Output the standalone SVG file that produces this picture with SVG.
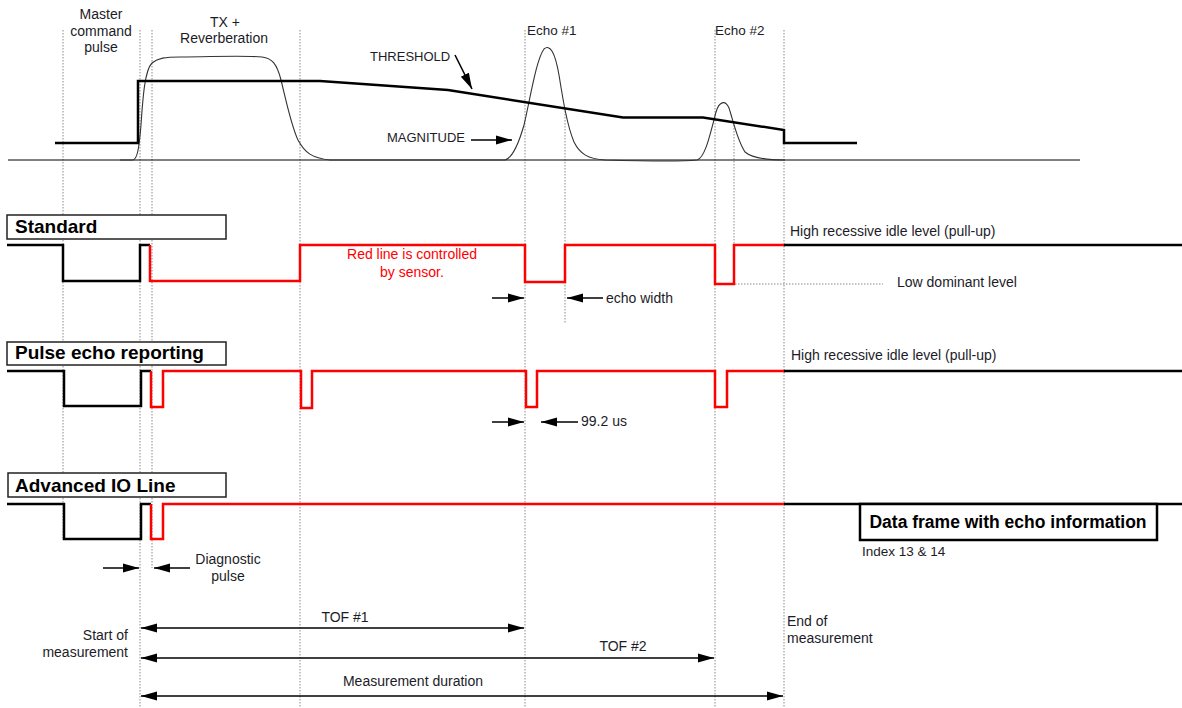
<svg xmlns="http://www.w3.org/2000/svg" width="1182" height="708" viewBox="0 0 1182 708">
<style>
text{font-family:"Liberation Sans",Arial,sans-serif;font-size:14px;fill:#1c1c28}
.b{font-weight:bold;font-size:19px;fill:#000}
.m{text-anchor:middle}
.e{text-anchor:end}
.red{fill:#ff0000}
.dot{stroke:#8a8a8a;stroke-width:1;stroke-dasharray:1.5 1.5;fill:none}
.sigk{stroke:#000;stroke-width:2.5;fill:none;stroke-linejoin:miter}
.sigr{stroke:#ff0000;stroke-width:2.5;fill:none;stroke-linejoin:miter}
.box{fill:#fff;stroke:#222;stroke-width:1.5}
.arr{stroke:#000;stroke-width:1.5;fill:none}
.thin{stroke:#333;stroke-width:1.1;fill:none}
</style>
<defs>
<marker id="ah" markerUnits="userSpaceOnUse" markerWidth="17" markerHeight="11" refX="16" refY="5" orient="auto-start-reverse">
<path d="M0,0.5 L16,5 L0,9.5 z" fill="#000"/>
</marker>
</defs>

<g id="guides">
<line class="dot" x1="63" y1="30" x2="63" y2="540"/>
<line class="dot" x1="140" y1="30" x2="140" y2="708"/>
<line class="dot" x1="152" y1="30" x2="152" y2="568"/>
<line class="dot" x1="300" y1="30" x2="300" y2="708"/>
<line class="dot" x1="525" y1="30" x2="525" y2="708"/>
<line class="dot" x1="565" y1="108" x2="565" y2="323"/>
<line class="dot" x1="715" y1="30" x2="715" y2="708"/>
<line class="dot" x1="734" y1="122" x2="734" y2="284"/>
<line class="dot" x1="784" y1="30" x2="784" y2="708"/>
<line class="dot" x1="735" y1="284" x2="883" y2="284"/>
</g>

<g id="top-plot">
<line x1="8" y1="160" x2="1080" y2="160" stroke="#000" stroke-width="1"/>
<path class="thin" d="M120,160 L133,160 C137,159 139,150 141,125 C143,95 145,70 152,63 C158,58 165,57 180,57 C210,57 240,55 262,57 C272,58 277,64 281,80 C286,100 291,125 298,140 C305,153 312,158 330,160 L505,160 C512,158 518,146 524,125 C530,100 536,60 544,49 C550,44 555,52 559,75 C563,100 567,125 574,142 C580,154 588,159 605,160 C640,161 680,162 697,160 C705,158 710,135 716,112 C719,102 725,99 729,108 C733,120 737,140 745,152 C752,158 765,160 785,160"/>
<path class="sigk" d="M55,143 H138 V81 H320 L448,90 L623,117.5 H703 L784,130 V143 H857"/>
<text x="101" y="19" class="m">Master</text>
<text x="101" y="36" class="m">command</text>
<text x="101" y="52" class="m">pulse</text>
<text x="225" y="27" class="m">TX +</text>
<text x="224" y="43" class="m">Reverberation</text>
<text x="370" y="61" style="font-size:13px">THRESHOLD</text>
<text x="387" y="142" style="font-size:13px">MAGNITUDE</text>
<text x="527" y="35" style="font-size:13.5px">Echo #1</text>
<text x="715" y="35" style="font-size:13.5px">Echo #2</text>
</g>

<g id="standard">
<rect class="box" x="7" y="215" width="219" height="24"/>
<text x="15" y="233" class="b">Standard</text>
<path class="sigk" d="M7,245 H63 V281 H140 V245 H150"/>
<path class="sigr" d="M150,245 V281 H300 V245 H525 V282 H565 V245 H715 V284 H734 V245 H785"/>
<path class="sigk" d="M784,245 H1182"/>
<text x="412" y="259" class="m red">Red line is controlled</text>
<text x="412" y="277" class="m red">by sensor.</text>
<text x="790" y="236">High  recessive idle level (pull-up)</text>
<text x="897" y="287">Low dominant level</text>
<text x="606" y="303">echo width</text>
</g>

<g id="pulse-echo">
<rect class="box" x="7" y="342" width="219" height="23"/>
<text x="15" y="359" class="b">Pulse echo reporting</text>
<path class="sigk" d="M7,371 H64 V406 H141 V371 H151"/>
<path class="sigr" d="M151,371 V407 H163 V371 H301 V408 H312 V371 H526 V407 H537 V371 H715 V407 H727 V371 H785"/>
<path class="sigk" d="M784,371 H1182"/>
<text x="791" y="360">High  recessive idle level (pull-up)</text>
<text x="581" y="426">99.2 us</text>
</g>

<g id="advanced-io">
<rect class="box" x="8" y="473" width="218" height="24"/>
<text x="15" y="492" class="b">Advanced IO Line</text>
<path class="sigk" d="M7,504 H64 V539 H141 V504 H151"/>
<path class="sigr" d="M151,504 V539 H163 V504 H785"/>
<path class="sigk" d="M784,504 H1182"/>
<text x="228" y="564" class="m">Diagnostic</text>
<text x="228" y="581" class="m">pulse</text>
</g>

<g id="data-frame">
<rect x="860" y="504" width="297" height="36" fill="#fff" stroke="#000" stroke-width="2.5"/>
<text x="1008" y="528" class="m" style="font-weight:bold;font-size:17.5px;fill:#000">Data frame with echo information</text>
<text x="862" y="556" style="font-size:13.5px">Index 13 &amp; 14</text>
</g>

<g id="measurement">
<text x="345" y="622" class="m">TOF #1</text>
<text x="623" y="651" class="m">TOF #2</text>
<text x="413" y="686" class="m">Measurement duration</text>
<text x="128" y="640" class="e">Start of</text>
<text x="128" y="657" class="e">measurement</text>
<text x="787" y="626">End of</text>
<text x="787" y="643">measurement</text>
</g>

<g id="connectors">
<line class="arr" x1="455" y1="55" x2="472" y2="89" marker-end="url(#ah)"/>
<line class="arr" x1="471" y1="140" x2="512" y2="140" marker-end="url(#ah)"/>
<line class="arr" x1="492" y1="298" x2="524" y2="298" marker-end="url(#ah)"/>
<line class="arr" x1="603" y1="298" x2="567" y2="298" marker-end="url(#ah)"/>
<line class="arr" x1="492" y1="422" x2="524" y2="422" marker-end="url(#ah)"/>
<line class="arr" x1="578" y1="422" x2="541" y2="422" marker-end="url(#ah)"/>
<line class="arr" x1="103" y1="568" x2="139" y2="568" marker-end="url(#ah)"/>
<line class="arr" x1="190" y1="568" x2="154" y2="568" marker-end="url(#ah)"/>
<line class="arr" x1="141" y1="628" x2="524" y2="628" marker-start="url(#ah)" marker-end="url(#ah)"/>
<line class="arr" x1="141" y1="658" x2="714" y2="658" marker-start="url(#ah)" marker-end="url(#ah)"/>
<line class="arr" x1="141" y1="696" x2="783" y2="696" marker-start="url(#ah)" marker-end="url(#ah)"/>
</g>
</svg>
